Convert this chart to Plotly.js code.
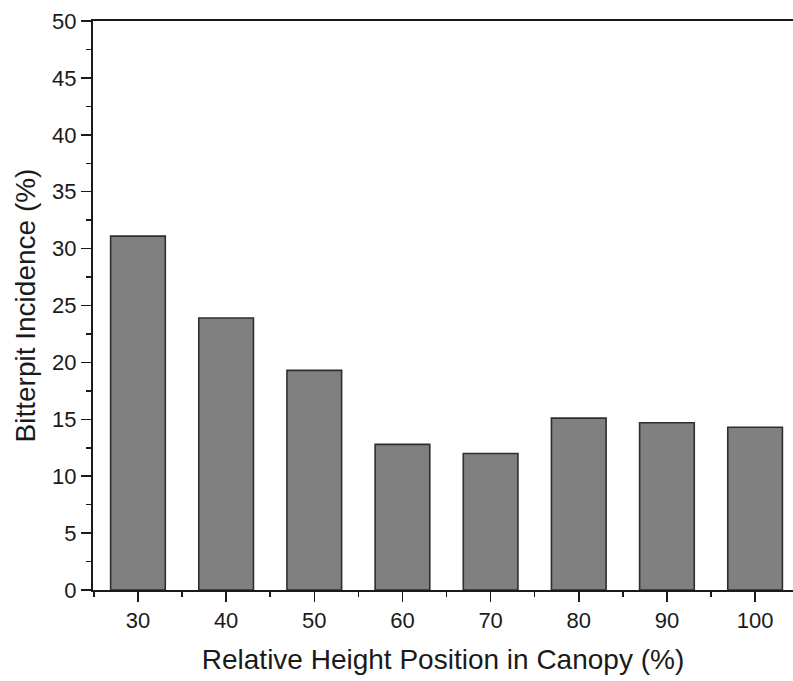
<!DOCTYPE html>
<html>
<head>
<meta charset="utf-8">
<script src="https://cdn.plot.ly/plotly-3.0.1.min.js"></script>
<style>html,body{margin:0;padding:0;background:#fff;overflow:hidden;}</style>
</head>
<body>
<div id="chart" style="width:793px;height:681px;"></div>
<script>
const heightPositions = [30, 40, 50, 60, 70, 80, 90, 100];
const bitterpitIncidence = [31.1, 23.9, 19.3, 12.8, 12.0, 15.1, 14.7, 14.3];
const xTickVals = [30, 40, 50, 60, 70, 80, 90, 100];
const yTickVals = [0, 5, 10, 15, 20, 25, 30, 35, 40, 45, 50];

const trace = {
  type: 'bar',
  x: heightPositions,
  y: bitterpitIncidence,
  width: 6.2,
  marker: { color: '#808080', line: { color: '#2e2e2e', width: 1.6 } },
  hoverinfo: 'x+y'
};

const layout = {
  width: 793,
  height: 681,
  margin: { l: 93, r: 0, t: 21, b: 91 },
  paper_bgcolor: '#ffffff',
  plot_bgcolor: '#ffffff',
  font: { family: 'Liberation Sans, Arial, sans-serif', color: '#1a1a1a', size: 22 },
  showlegend: false,
  bargap: 0,
  xaxis: {
    range: [24.9, 104.3],
    tickvals: xTickVals,
    ticktext: xTickVals.map(String),
    ticks: 'outside',
    ticklen: 10,
    tickwidth: 1.5,
    tickcolor: '#1a1a1a',
    minor: { dtick: 10, tick0: 35, ticks: 'outside', ticklen: 5, tickwidth: 1.5, tickcolor: '#1a1a1a', showgrid: false },
    showline: true,
    linecolor: '#1a1a1a',
    linewidth: 2,
    mirror: true,
    showgrid: false,
    zeroline: false,
    tickfont: { size: 22 },
    title: { text: 'Relative Height Position in Canopy (%)', font: { size: 28 }, standoff: 17 }
  },
  yaxis: {
    range: [0, 50],
    tickvals: yTickVals,
    ticktext: yTickVals.map(String),
    ticks: 'outside',
    ticklen: 10,
    tickwidth: 1.5,
    tickcolor: '#1a1a1a',
    minor: { dtick: 5, tick0: 2.5, ticks: 'outside', ticklen: 5, tickwidth: 1.5, tickcolor: '#1a1a1a', showgrid: false },
    showline: true,
    linecolor: '#1a1a1a',
    linewidth: 2,
    mirror: false,
    showgrid: false,
    zeroline: false,
    tickfont: { size: 22 },
    title: { text: 'Bitterpit Incidence (%)', font: { size: 28 }, standoff: 8 }
  }
};

Plotly.newPlot('chart', [trace], layout, { displayModeBar: false, staticPlot: true });
</script>
</body>
</html>
